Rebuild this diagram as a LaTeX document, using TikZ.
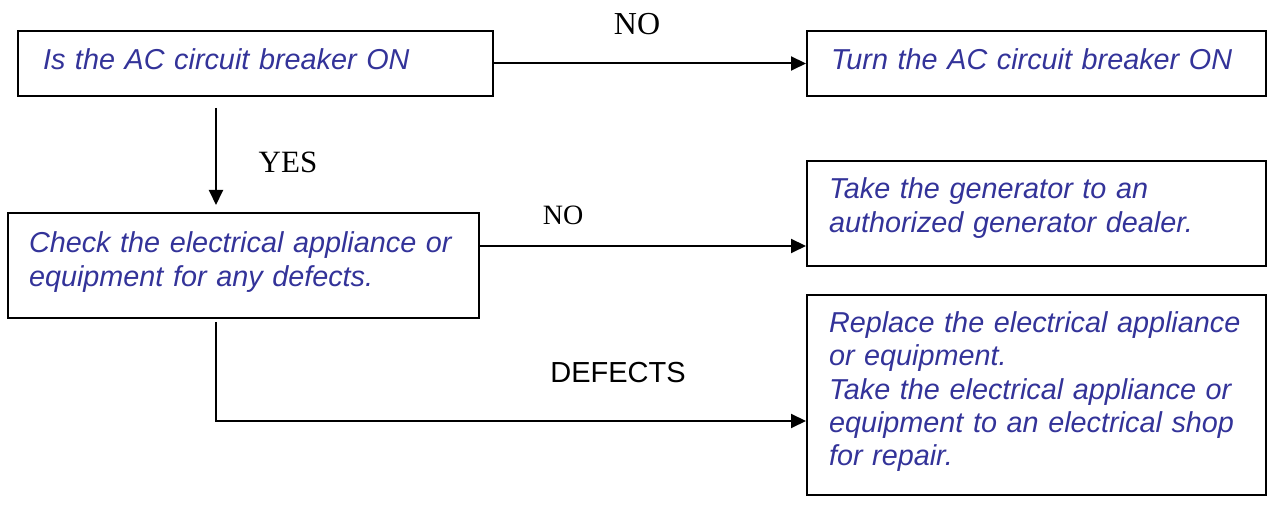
\documentclass[tikz,border=0pt]{standalone}
\usepackage{fontspec}
\setmainfont{Liberation Serif}
\setsansfont{Liberation Sans}
\usepackage{xcolor}
\usetikzlibrary{arrows.meta,positioning}
\definecolor{boxtext}{RGB}{51,51,153}

\begin{document}
\begin{tikzpicture}[x=0.5pt,y=-0.5pt,>={Triangle[length=7.5pt,width=7pt]},line width=1pt,
  box/.style={draw,inner xsep=11pt,inner ysep=0pt,anchor=north west,align=left,text=boxtext,font=\sffamily\itshape\fontsize{14.4}{16.65}\selectfont},
  lbl/.style={font=\fontsize{16}{18}\selectfont}]
\useasboundingbox (0,0) rectangle (1280,506);
\node[box,inner xsep=12.5pt,minimum width=237.5pt,text width=212.5pt,text height=19.25pt,text depth=13.25pt](brk) at (17,30){Is the AC circuit breaker ON};
\node[box,inner xsep=12pt,minimum width=229.5pt,text width=205.5pt,text height=19.25pt,text depth=13.25pt](turn) at (806,30){Turn the AC circuit breaker ON};
\node[box,inner xsep=10.5pt,minimum width=235.5pt,text width=214.5pt,text height=20pt,text depth=32.5pt](chk) at (7,212){Check the electrical appliance or\\equipment for any defects.};
\node[box,minimum width=229.5pt,text width=207.5pt,text height=19pt,text depth=33.5pt](gen) at (806,160){Take the generator to an\\authorized generator dealer.};
\node[box,minimum width=229.5pt,text width=207.5pt,text height=18.75pt,text depth=81.25pt](rep) at (806,294){Replace the electrical appliance\\or equipment.\\Take the electrical appliance or\\equipment to an electrical shop\\for repair.};
% connector ends
\coordinate (yesA) at (216,108); \coordinate (yesB) at (216,205);
\coordinate (noB) at (478,246);
\coordinate (dfA) at (216,322); \coordinate (dfB) at (216,421);
\draw[->](brk.east)--(turn.west);
\draw[->](yesA)--(yesB);
\draw[->](noB)--(noB -| gen.west);
\draw[->](dfA)--(dfB)--(dfB -| rep.west);
\node[lbl](noTop) at (637,24){NO};
\node[lbl,font=\fontsize{15.5}{18}\selectfont](yes) at (288,162.5){YES};
\node[lbl,font=\fontsize{14}{16}\selectfont](noMid) at (563,215){NO};
\node[lbl,font=\sffamily\fontsize{14.5}{16}\selectfont](dfct) at (618,373){DEFECTS};
\end{tikzpicture}
\end{document}
